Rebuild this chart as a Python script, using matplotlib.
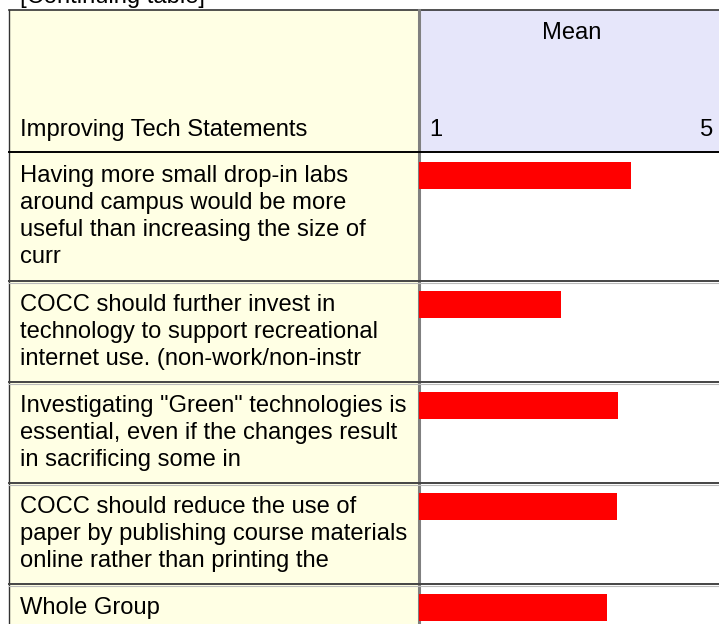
import matplotlib
matplotlib.use("Agg")
import matplotlib.pyplot as plt
from matplotlib.patches import Rectangle

plt.rcParams["font.family"] = ["Liberation Sans", "DejaVu Sans"]

# Table content
title = "[Continuing table]"
header_label = "Improving Tech Statements"
value_header = "Mean"
scale_min, scale_max = 1, 5
statements = [
    "Having more small drop-in labs\naround campus would be more\nuseful than increasing the size of\ncurr",
    "COCC should further invest in\ntechnology to support recreational\ninternet use. (non-work/non-instr",
    "Investigating \"Green\" technologies is\nessential, even if the changes result\nin sacrificing some in",
    "COCC should reduce the use of\npaper by publishing course materials\nonline rather than printing the",
    "Whole Group",
]
means = [3.83, 2.89, 3.65, 3.64, 3.51]

# Layout (pixels)
W, H = 719, 624
left_x, split_x, right_x = 9, 419, 719
top_y, head_y = 10, 152
row_tops = [152, 281, 382, 483, 584]

fig = plt.figure(figsize=(W / 100, H / 100), dpi=100)
ax = fig.add_axes([0, 0, 1, 1])
ax.set_xlim(0, W)
ax.set_ylim(H, 0)
ax.axis("off")

yellow = "#FFFFE4"
lavender = "#E6E6FA"
fs = 17.1

# Backgrounds
ax.add_patch(Rectangle((left_x, top_y), split_x - left_x, H + 40 - top_y,
                       facecolor=yellow, edgecolor="none", zorder=0))
ax.add_patch(Rectangle((split_x, top_y), right_x - split_x, head_y - top_y,
                       facecolor=lavender, edgecolor="none", zorder=0))

# Grid lines
ax.plot([left_x, right_x], [top_y, top_y], color="#333333", lw=1.2, zorder=3)
ax.plot([left_x, left_x], [top_y, H], color="#333333", lw=1.0, zorder=3)
ax.plot([split_x - 0.5, split_x - 0.5], [top_y, H], color="#808080", lw=2.2, zorder=3)
ax.plot([left_x, right_x], [head_y, head_y], color="#000000", lw=1.4, zorder=3)
for yt in row_tops[1:]:
    ax.plot([left_x, right_x], [yt, yt], color="#444444", lw=1.4, zorder=3)
    ax.plot([left_x, right_x], [yt + 1.6, yt + 1.6], color="#BBBBBB", lw=0.8, zorder=3)

# Header text
ax.text(20, 3, title, fontsize=fs, va="baseline", ha="left", color="black")
ax.text(20, 130, header_label, fontsize=fs, va="center", ha="left")
ax.text((split_x + right_x) / 2 + 3, 33, value_header, fontsize=fs, va="center", ha="center")
ax.text(429, 130, str(scale_min), fontsize=fs, va="center", ha="left")
ax.text(713, 130, str(scale_max), fontsize=fs, va="center", ha="right")

# Statement labels
for top, label in zip(row_tops, statements):
    ax.text(20, top + 13, label, fontsize=fs, va="top", ha="left", linespacing=1.3)

# Bar column on the 1-5 scale
bx = fig.add_axes([split_x / W, 0, (right_x - split_x) / W, 1])
bx.set_xlim(scale_min, scale_max)
bx.set_ylim(H, 0)
bx.axis("off")
bx.patch.set_alpha(0)
bar_y = [t + 23.5 for t in row_tops]
bx.barh(bar_y, [m - scale_min for m in means], left=scale_min, height=27,
        color="#FF0000", zorder=2)

fig.savefig("out.png", dpi=100)
